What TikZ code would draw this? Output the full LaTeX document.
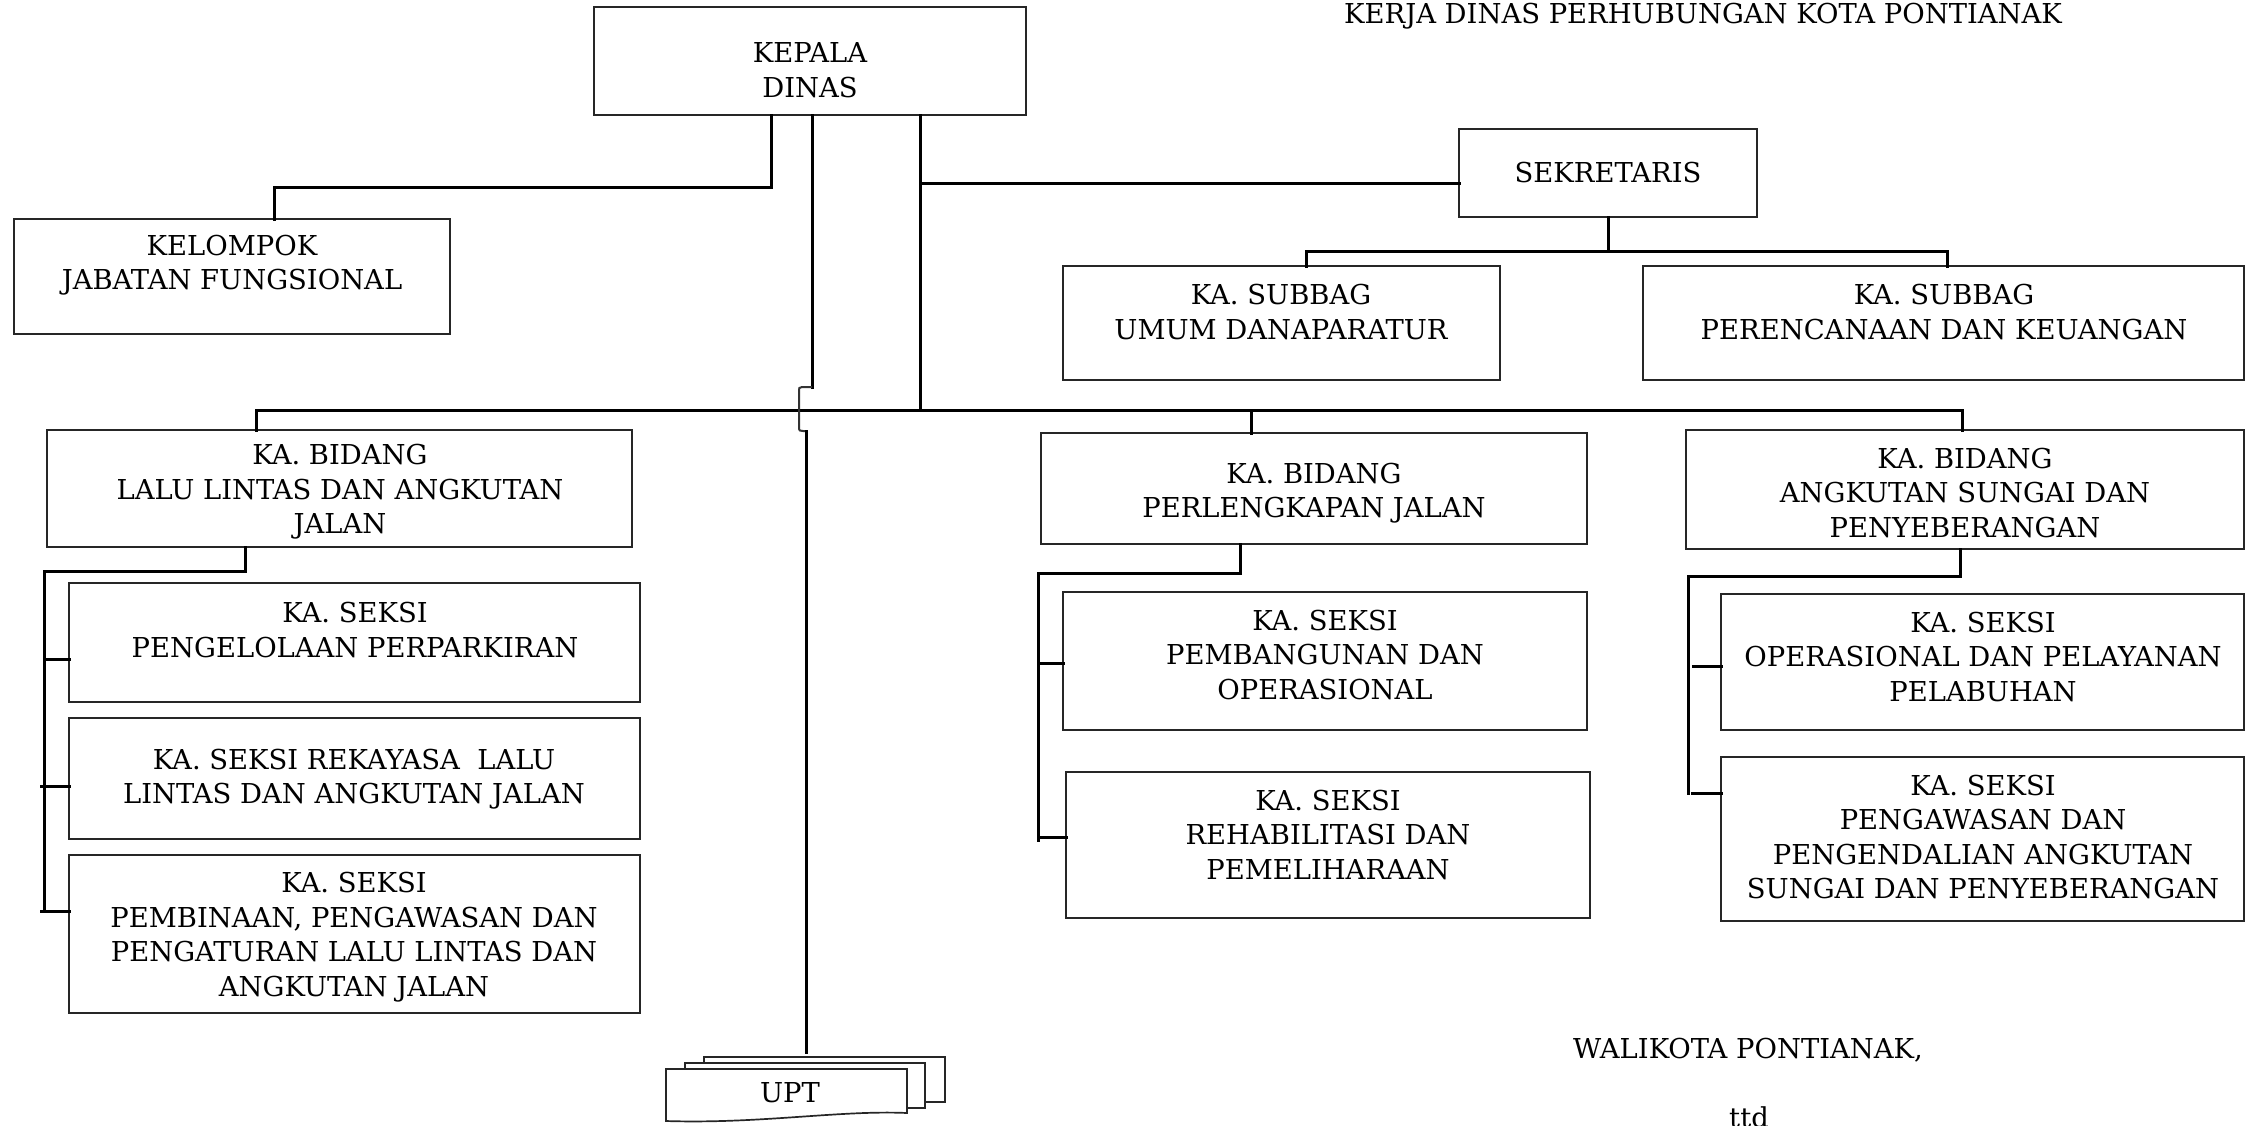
\documentclass[tikz,border=0pt]{standalone}
\usepackage{fontspec}
\setmainfont{DejaVu Serif}
\usetikzlibrary{fit}
\tikzset{
  conn/.style={line width=1.5pt, line cap=rect},
  box/.style={draw=black!85, line width=0.85pt, inner sep=0pt, outer sep=0pt, rectangle},
  lbl/.style={align=center, inner sep=0pt, font=\fontsize{13.7pt}{17.25pt}\selectfont},
  thinline/.style={line width=1pt, black!80}
}
\begin{document}
\begin{tikzpicture}[x=0.5pt,y=-0.5pt]
\useasboundingbox (0,0) rectangle (2246,1125);
% title fragment
\node[lbl, anchor=base] (title) at (1703,23) {KERJA DINAS PERHUBUNGAN KOTA PONTIANAK};
% boxes
\node[box, fit={(594,7) (1026,115)}] (kepala) {};
\node[lbl] (kepalat) at (810,70) {KEPALA\\DINAS};
\node[box, fit={(14,219) (450,334)}] (kelompok) {};
\node[lbl] (kelompokt) at (232,265) {KELOMPOK\\JABATAN FUNGSIONAL};
\node[box, fit={(1459,129) (1757,217)}] (sekretaris) {};
\node[lbl] (sekretarist) at (1608,173) {SEKRETARIS};
\node[box, fit={(1063,266) (1500,380)}] (umum) {};
\node[lbl] (umumt) at (1281,312) {KA. SUBBAG\\UMUM DANAPARATUR};
\node[box, fit={(1643,266) (2244,380)}] (renku) {};
\node[lbl] (renkut) at (1944,312) {KA. SUBBAG\\PERENCANAAN DAN KEUANGAN};
\node[box, fit={(47,430) (632,547)}] (llaj) {};
\node[lbl] (llajt) at (340,492) {KA. BIDANG\\LALU LINTAS DAN ANGKUTAN\\JALAN};
\node[box, fit={(69,583) (640,702)}] (parkir) {};
\node[lbl] (parkirt) at (355,630) {KA. SEKSI\\PENGELOLAAN PERPARKIRAN};
\node[box, fit={(69,718) (640,839)}] (rekayasa) {};
\node[lbl] (rekayasat) at (354,779) {KA. SEKSI REKAYASA\ \ LALU\\LINTAS DAN ANGKUTAN JALAN};
\node[box, fit={(69,855) (640,1013)}] (pembinaan) {};
\node[lbl] (pembinaant) at (354,937) {KA. SEKSI\\PEMBINAAN, PENGAWASAN DAN\\PENGATURAN LALU LINTAS DAN\\ANGKUTAN JALAN};
\node[box, fit={(1041,433) (1587,544)}] (perleng) {};
\node[lbl] (perlengt) at (1314,493) {KA. BIDANG\\PERLENGKAPAN JALAN};
\node[box, fit={(1063,592) (1587,730)}] (pembangunan) {};
\node[lbl] (pembangunant) at (1325,655) {KA. SEKSI\\PEMBANGUNAN DAN\\OPERASIONAL};
\node[box, fit={(1066,772) (1590,918)}] (rehab) {};
\node[lbl] (rehabt) at (1328,835) {KA. SEKSI\\REHABILITASI DAN\\PEMELIHARAAN};
\node[box, fit={(1686,430) (2244,549)}] (asdp) {};
\node[lbl] (asdpt) at (1965,493) {KA. BIDANG\\ANGKUTAN SUNGAI DAN\\PENYEBERANGAN};
\node[box, fit={(1721,594) (2244,730)}] (operasional) {};
\node[lbl] (operasionalt) at (1983,657) {KA. SEKSI\\OPERASIONAL DAN PELAYANAN\\PELABUHAN};
\node[box, fit={(1721,757) (2244,921)}] (pengawasan) {};
\node[lbl] (pengawasant) at (1983,837) {KA. SEKSI\\PENGAWASAN DAN\\PENGENDALIAN ANGKUTAN\\SUNGAI DAN PENYEBERANGAN};
% UPT stack
\draw[box, fill=white] (704,1057) rectangle (945,1102);
\draw[box, fill=white] (685,1063) rectangle (925,1108);
\draw[box, fill=white] (666,1069) -- (907,1069) -- (907,1113) .. controls (840,1110) and (760,1124) .. (666,1121) -- cycle;
\node[inner sep=0pt, minimum width=140pt, minimum height=33pt] (upt) at (805,1089) {};
\node[lbl] (uptt) at (790,1093) {UPT};
% signature
\node[lbl, anchor=base] (walikota) at (1748,1058) {WALIKOTA PONTIANAK,};
\node[lbl, anchor=base] (ttd) at (1749,1127) {ttd};
% coordinates
\coordinate (kd1) at (771,187);
\coordinate (kjf) at (274,187);
\coordinate (kd3) at (920,410);
\coordinate (sk) at (920,183);
\coordinate (sb) at (1608,251);
\coordinate (sbl) at (1306,251);
\coordinate (sbr) at (1947,251);
\coordinate (busl) at (256,410);
\coordinate (busm) at (1251,410);
\coordinate (busr) at (1962,410);
\coordinate (mid) at (812,387);
\coordinate (uptline) at (806,1052);
\coordinate (la) at (245,571);
\coordinate (lb) at (44,571);
\coordinate (lc) at (44,911);
\coordinate (lt1) at (44,659);
\coordinate (lt2) at (41,786);
\coordinate (lt3) at (41,911);
\coordinate (pa) at (1240,573);
\coordinate (pb) at (1038,573);
\coordinate (pc) at (1038,840);
\coordinate (pt1) at (1038,663);
\coordinate (pt2) at (1038,837);
\coordinate (aa) at (1960,576);
\coordinate (ab) at (1688,576);
\coordinate (ac) at (1688,793);
\coordinate (at1) at (1693,666);
\coordinate (at2) at (1692,793);
% connectors
\draw[conn] (kepala.south -| kd1) -- (kd1) -- (kjf) -- (kelompok.north -| kjf);
\draw[conn] (kepala.south -| kd3) -- (kd3);
\draw[conn] (sk) -- (sk -| sekretaris.west);
\draw[conn] (sekretaris.south) -- (sb);
\draw[conn] (umum.north -| sbl) -- (sbl) -- (sbr) -- (renku.north -| sbr);
\draw[conn] (busl) -- (busr);
\draw[conn] (busl) -- (llaj.north -| busl);
\draw[conn] (busm) -- (perleng.north -| busm);
\draw[conn] (busr) -- (asdp.north -| busr);
\draw[conn] (kepala.south -| mid) -- (mid);
\draw[thinline] (mid) -- (802,387) .. controls (799,387) and (799,388) .. (799,392) -- (799,427) .. controls (799,431) and (800,431) .. (803,431) -- (806,431);
\draw[conn] (806,431) -- (uptline);
\draw[conn] (llaj.south -| la) -- (la) -- (lb) -- (lc);
\draw[conn] (lt1) -- (parkir.west |- lt1);
\draw[conn] (lt2) -- (rekayasa.west |- lt2);
\draw[conn] (lt3) -- (pembinaan.west |- lt3);
\draw[conn] (perleng.south -| pa) -- (pa) -- (pb) -- (pc);
\draw[conn] (pt1) -- (pembangunan.west |- pt1);
\draw[conn] (pt2) -- (rehab.west |- pt2);
\draw[conn] (asdp.south -| aa) -- (aa) -- (ab) -- (ac);
\draw[conn] (at1) -- (operasional.west |- at1);
\draw[conn] (at2) -- (pengawasan.west |- at2);
\end{tikzpicture}
\end{document}
